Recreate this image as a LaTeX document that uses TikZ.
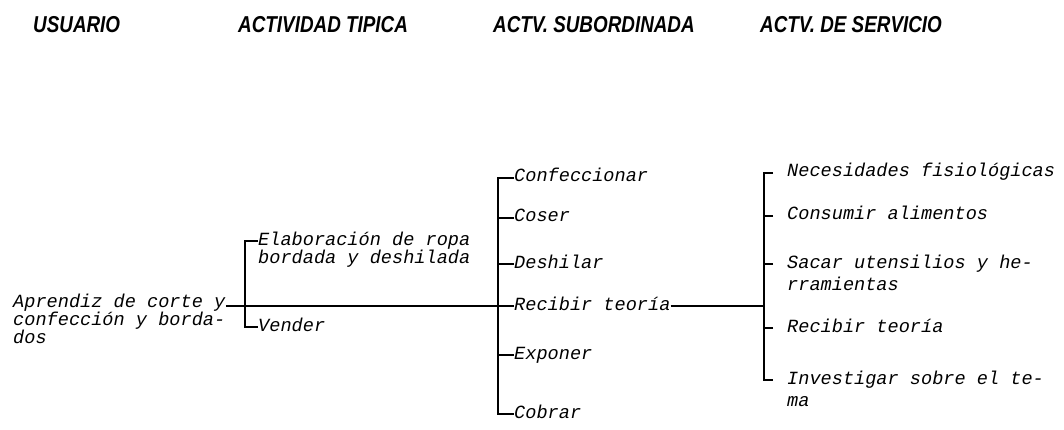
\documentclass[tikz,border=0pt]{standalone}
\usepackage{fontspec}
\newfontfamily\handfont{Liberation Mono}
\newfontfamily\headfont[FakeStretch=0.82]{Liberation Sans}
\usetikzlibrary{positioning}

\begin{document}
\begin{tikzpicture}[x=1pt, y=-1pt]
    % --- STYLES ---
    \tikzstyle{colhead} = [anchor=base west, inner sep=0pt, font=\headfont\bfseries\itshape\fontsize{23}{23}\selectfont]
    \tikzstyle{item} = [anchor=base west, inner sep=0pt, align=left, font=\handfont\itshape\fontsize{18.6}{18}\selectfont, execute at begin node={\spaceskip=0.6em\relax}]
    \tikzstyle{twoline} = [text width=270pt]
    \tikzstyle{tight} = [font=\handfont\itshape\fontsize{18.6}{16}\selectfont]
    \tikzstyle{loose} = [font=\handfont\itshape\fontsize{18.6}{22}\selectfont]
    \tikzstyle{link} = [line width=1.2pt]

    \useasboundingbox (0,0) rectangle (1064,430);

    % --- HEADINGS ---
    \node (usuario)  [colhead] at (33, 33)  {USUARIO};
    \node (tipica)   [colhead] at (238, 33) {ACTIVIDAD TIPICA};
    \node (subord)   [colhead] at (493, 33) {ACTV. SUBORDINADA};
    \node (servicio) [colhead] at (760, 33) {ACTV. DE SERVICIO};

    % --- NODES ---
    % text width keeps the base anchor on the first line
    \node (aprendiz) [item, tight, text width=212.5pt] at (13, 307) {Aprendiz de corte y\\confección y borda-\\dos};

    \node (elab)     [item, twoline] at (258, 245) {Elaboración de ropa\\bordada y deshilada};
    \node (vender)   [item] at (258, 331) {Vender};

    \node (confec)   [item] at (514, 182) {Confeccionar};
    \node (coser)    [item] at (514, 222) {Coser};
    \node (deshilar) [item] at (514, 268) {Deshilar};
    \node (recibir)  [item] at (514, 310) {Recibir teoría};
    \node (exponer)  [item] at (514, 359) {Exponer};
    \node (cobrar)   [item] at (514, 418) {Cobrar};

    \node (neces)    [item] at (787, 177) {Necesidades fisiológicas};
    \node (consumir) [item] at (787, 220) {Consumir alimentos};
    \node (sacar)    [item, loose, twoline] at (787, 268) {Sacar utensilios y he-\\rramientas};
    \node (recibirb) [item] at (787, 332) {Recibir teoría};
    \node (invest)   [item, loose, twoline] at (787, 384) {Investigar sobre el te-\\ma};

    \coordinate (rowA) at ([yshift=4pt]recibir.base west);
    \coordinate (rowB) at ([yshift=4pt]recibir.base east);
    \coordinate (spineC) at ([xshift=-23pt]neces.base west);

    % --- BRACKETS ---
    \draw[link] ([yshift=4pt]elab.base west) -- ++(-13,0) |- ([yshift=4pt]vender.base west);

    \draw[link] ([yshift=4pt]confec.base west) -- ++(-16,0) |- ([yshift=4pt]cobrar.base west);
    \foreach \n in {coser, deshilar, recibir, exponer}
        \draw[link] ([yshift=4pt]\n.base west) -- ++(-16,0);

    \draw[link] ([xshift=-14pt, yshift=4pt]neces.base west) -- ++(-9,0) |- ([xshift=-14pt, yshift=4pt]invest.base west);
    \foreach \n in {consumir, sacar, recibirb}
        \draw[link] ([xshift=-14pt, yshift=4pt]\n.base west) -- ++(-9,0);

    % --- MAIN LINES ---
    \draw[link] (rowA -| aprendiz.east) -- ([xshift=-16pt]rowA);
    \draw[link] (rowB) -- (rowB -| spineC);

\end{tikzpicture}
\end{document}
